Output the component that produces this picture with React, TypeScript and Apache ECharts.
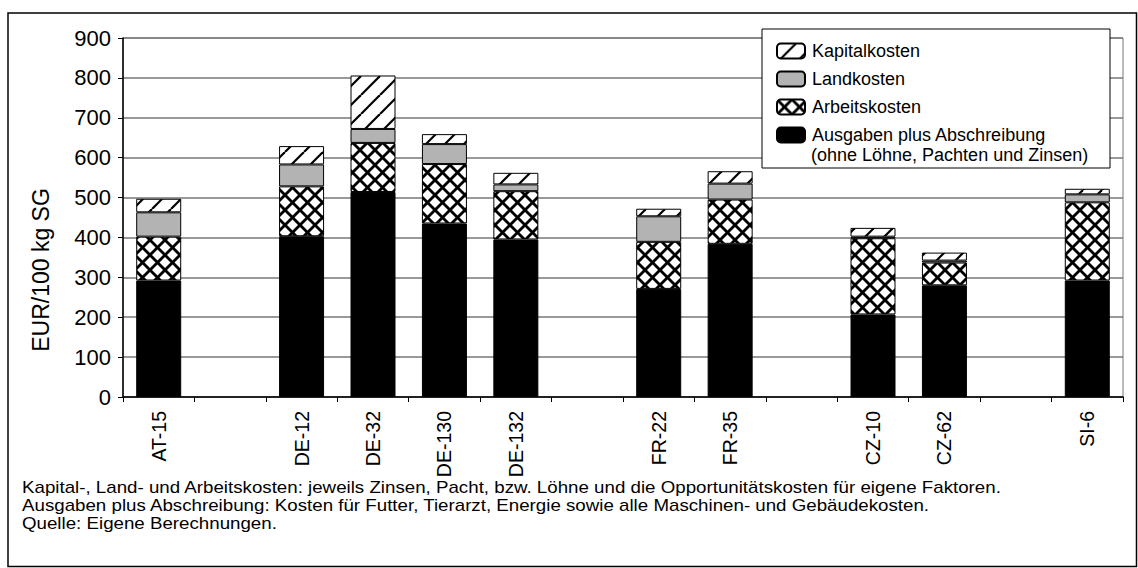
import React, { useEffect, useRef } from "react";
import * as echarts from "echarts";

const categories = ["AT-15", " ", "DE-12", "DE-32", "DE-130", "DE-132", "  ", "FR-22", "FR-35", "   ", "CZ-10", "CZ-62", "    ", "SI-6"];
const ausgaben = [292, null, 403, 514, 435, 395, null, 271, 384, null, 207, 280, null, 292];
const arbeit = [110, null, 125, 123, 149, 121, null, 118, 111, null, 191, 57, null, 196];
const land = [61, null, 55, 35, 50, 17, null, 64, 40, null, 4, 5, null, 20];
const kapital = [34, null, 46, 134, 25, 29, null, 19, 31, null, 22, 20, null, 14];
const yTicks = { min: 0, max: 900, interval: 100 };

const seriesNames = ["Kapitalkosten", "Landkosten", "Arbeitskosten", "Ausgaben plus Abschreibung"];
const legendExtra = "(ohne Löhne, Pachten und Zinsen)";
const footnotes = [
  "Kapital-, Land- und Arbeitskosten: jeweils Zinsen, Pacht, bzw. Löhne und die Opportunitätskosten für eigene Faktoren.",
  "Ausgaben plus Abschreibung: Kosten für Futter, Tierarzt, Energie sowie alle Maschinen- und Gebäudekosten.",
  "Quelle: Eigene Berechnungen.",
];
const yTitle = "EUR/100 kg SG";

const FONT = "'Liberation Sans', Arial, sans-serif";

function makePattern(kind: "diag" | "cross") {
  const T = kind === "diag" ? 19 : 15;
  const c = document.createElement("canvas");
  c.width = T;
  c.height = T;
  const ctx = c.getContext("2d")!;
  ctx.fillStyle = "#fff";
  ctx.fillRect(0, 0, T, T);
  ctx.strokeStyle = "#000";
  ctx.lineWidth = kind === "diag" ? 2.2 : 2.8;
  for (const dx of [-T, 0, T]) {
    ctx.beginPath();
    ctx.moveTo(dx, T);
    ctx.lineTo(dx + T, 0);
    ctx.stroke();
    if (kind === "cross") {
      ctx.beginPath();
      ctx.moveTo(dx, 0);
      ctx.lineTo(dx + T, T);
      ctx.stroke();
    }
  }
  return { image: c, repeat: "repeat", imageWidth: T, imageHeight: T } as any;
}

export default function App() {
  const ref = useRef<HTMLDivElement>(null);
  useEffect(() => {
    const chart = echarts.init(ref.current!, null, { renderer: "svg" });
    const diag = makePattern("diag");
    const cross = makePattern("cross");
    const base = {
      type: "bar",
      stack: "total",
      barWidth: 45,
      itemStyle: { borderColor: "#000", borderWidth: 1 },
    };
    chart.setOption({
      animation: false,
      backgroundColor: "#fff",
      grid: { left: 123, right: 15, top: 38, bottom: 171, show: true, borderColor: "#777", borderWidth: 1 },
      legend: {
        data: seriesNames,
        orient: "vertical",
        left: 776,
        top: 41,
        padding: 0,
        itemWidth: 28,
        itemHeight: 15,
        itemGap: 8,
        z: 10,
        textStyle: { fontFamily: FONT, fontSize: 18, color: "#000", lineHeight: 20, padding: [0, 0, 0, 2] },
      },
      xAxis: {
        type: "category",
        data: categories,
        axisLine: { lineStyle: { color: "#000", width: 1.5 } },
        axisTick: { show: true, length: 5, lineStyle: { color: "#000" } },
        axisLabel: { rotate: 90, interval: 0, fontFamily: FONT, fontSize: 19.5, color: "#000", margin: 14 },
      },
      yAxis: {
        type: "value",
        min: yTicks.min,
        max: yTicks.max,
        interval: yTicks.interval,
        axisLine: { show: true, lineStyle: { color: "#000", width: 1.5 } },
        axisTick: { show: true, length: 5, lineStyle: { color: "#000" } },
        axisLabel: { fontFamily: FONT, fontSize: 22, color: "#000", margin: 12 },
        splitLine: { lineStyle: { color: "#777", width: 1.5 } },
      },
      series: [
        { ...base, name: seriesNames[3], data: ausgaben, itemStyle: { ...base.itemStyle, color: "#000" } },
        { ...base, name: seriesNames[2], data: arbeit, itemStyle: { ...base.itemStyle, color: cross } },
        { ...base, name: seriesNames[1], data: land, itemStyle: { ...base.itemStyle, color: "#b3b3b3" } },
        { ...base, name: seriesNames[0], data: kapital, itemStyle: { ...base.itemStyle, color: diag } },
      ],
      graphic: [
        { type: "rect", z: 5, shape: { x: 8, y: 13, width: 1128.5, height: 553.5 }, style: { fill: "none", stroke: "#000", lineWidth: 1.5 } },
        { type: "rect", z: 5, shape: { x: 762, y: 29, width: 348, height: 139 }, style: { fill: "#fff", stroke: "#000", lineWidth: 1 } },
        { type: "text", z: 11, x: 811, y: 155, style: { text: legendExtra, font: `18px ${FONT}`, fill: "#000", textVerticalAlign: "middle" } },
        { type: "text", z: 6, x: 41, y: 270, rotation: Math.PI / 2, style: { text: yTitle, font: `23px ${FONT}`, fill: "#000", textAlign: "center", textVerticalAlign: "middle" } },
        ...footnotes.map((t, i) => ({ type: "text", z: 6, x: 22, y: 487 + i * 18, scaleX: 1.17, style: { text: t, font: `16px ${FONT}`, fill: "#000", textVerticalAlign: "middle" } })),
      ],
    });
    return () => chart.dispose();
  }, []);
  return <div ref={ref} style={{ position: "absolute", left: 0, top: 0, width: 1138, height: 568 }} />;
}
